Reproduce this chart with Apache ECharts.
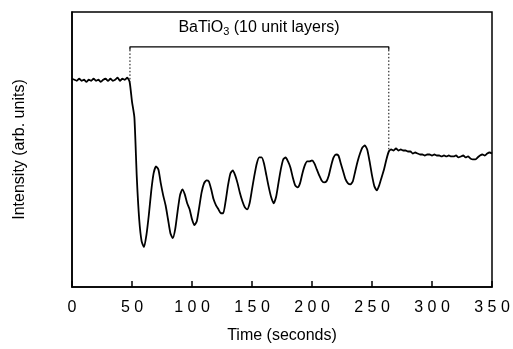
<!DOCTYPE html>
<html>
<head>
<meta charset="utf-8">
<script src="https://cdn.jsdelivr.net/npm/echarts@6/dist/echarts.min.js"></script>
<style>
  html, body { margin: 0; padding: 0; background: #fff; }
  #chart { width: 513px; height: 349px; }
</style>
</head>
<body>
<div id="chart"></div>
<script>
// RHEED intensity during growth of BaTiO3
const timeSec = [
  0, 2, 4, 6, 8, 10, 12, 14, 16, 18, 20, 22, 24, 26, 28, 30, 32, 34, 36, 38, 40, 42, 44, 46, 48,
  50, 52, 54, 56, 58, 60, 62, 64, 66, 68, 70, 72, 74, 76, 78, 80, 82, 84, 86, 88, 90, 92, 94, 96, 98,
  100, 102, 104, 106, 108, 110, 112, 114, 116, 118, 120, 122, 124, 126, 128, 130, 132, 134, 136, 138,
  140, 142, 144, 146, 148, 150, 152, 154, 156, 158, 160, 162, 164, 166, 168, 170, 172, 174, 176, 178,
  180, 182, 184, 186, 188, 190, 192, 194, 196, 198, 200, 202, 204, 206, 208, 210, 212, 214, 216, 218,
  220, 222, 224, 226, 228, 230, 232, 234, 236, 238, 240, 242, 244, 246, 248, 250, 252, 254, 256, 258,
  260, 262, 264, 266, 268, 270, 272, 274, 276, 278, 280, 282, 284, 286, 288, 290, 292, 294, 296, 298,
  300, 302, 304, 306, 308, 310, 312, 314, 316, 318, 320, 322, 324, 326, 328, 330, 332, 334, 336, 338,
  340, 342, 344, 346, 348, 350
]
const intensity = [
  209, 208, 207, 209, 207, 208, 206, 208, 207, 209, 207, 208, 206, 208, 209, 207, 209, 207, 208, 210, 207, 209, 208, 210, 206,
  186, 170, 110, 68, 46, 40, 52, 72, 96, 114, 121, 118, 104, 92, 82, 68, 54, 49, 58, 76, 92, 98, 93, 84, 78,
  68, 62, 66, 80, 95, 104, 107, 106, 98, 88, 82, 78, 74, 74, 86, 102, 114, 117, 112, 104,
  94, 86, 80, 78, 84, 98, 112, 124, 130, 130, 124, 112, 100, 90, 84, 90, 104, 118, 128, 130,
  126, 120, 110, 102, 100, 104, 114, 122, 126, 126, 127, 124, 118, 112, 107, 105, 106, 112, 122, 130,
  133, 132, 124, 116, 108, 104, 103, 106, 116, 126, 134, 140, 142, 138, 126, 112, 101, 97, 102, 110,
  118, 128, 136, 138, 137, 139, 137, 138, 137, 137, 136, 136, 134, 135, 134, 133, 133, 132, 133, 133,
  132, 133, 132, 132, 131, 132, 131, 132, 131, 131, 132, 130, 131, 132, 130, 131, 129, 128, 128, 130,
  132, 133, 132, 134, 135, 134
]
// deposition interval marked by the bracket
const bracketTimes = [48.3, 264]
const bracketLevel = 241
const bracketEnds = [206, 138]
const xTicks = [0, 50, 100, 150, 200, 250, 300, 350]

const chartDom = document.getElementById('chart')
const myChart = echarts.init(chartDom, null, { renderer: 'canvas' })

const curve = timeSec.map((t, i) => [t, intensity[i]])
const font = 'Liberation Sans, Arial, Helvetica, sans-serif'

const option = {
  animation: false,
  backgroundColor: '#fff',
  grid: {
    left: 72, right: 21, top: 12, bottom: 61,
    show: true, borderColor: '#000', borderWidth: 1.5
  },
  graphic: [
    {
      type: 'text',
      x: 259, y: 28,
      style: {
        text: '{a|BaTiO}{s|3}{a| (10 unit layers)}',
        align: 'center',
        verticalAlign: 'middle',
        rich: {
          a: { fontSize: 16, fontFamily: font, fill: '#000' },
          s: { fontSize: 11, fontFamily: font, fill: '#000', padding: [8, 0, 0, 0] }
        }
      }
    }
  ],
  xAxis: {
    type: 'value',
    min: xTicks[0],
    max: xTicks[xTicks.length - 1],
    interval: 50,
    name: 'Time (seconds)',
    nameLocation: 'middle',
    nameGap: 41,
    nameTextStyle: { fontSize: 16, fontFamily: font, color: '#000' },
    axisLine: { show: true, onZero: false, lineStyle: { color: '#000', width: 1.5 } },
    axisTick: { show: false },
    axisLabel: {
      fontSize: 16, fontFamily: font, color: '#000', margin: 13,
      formatter: (v) => String(v).split('').join(' ')
    },
    splitLine: { show: false }
  },
  yAxis: {
    type: 'value',
    min: 0,
    max: 276,
    name: 'Intensity (arb. units)',
    nameLocation: 'middle',
    nameGap: 44,
    nameTextStyle: { fontSize: 16, fontFamily: font, color: '#000' },
    axisLine: { show: true, lineStyle: { color: '#000', width: 1.5 } },
    axisTick: { show: false },
    axisLabel: { show: false },
    splitLine: { show: false }
  },
  series: [
    {
      name: 'intensity',
      type: 'line',
      data: curve,
      symbol: 'none',
      smooth: 0.2,
      lineStyle: { color: '#000', width: 1.8 },
      // inward tick marks on the time axis
      markLine: {
        silent: true,
        symbol: 'none',
        label: { show: false },
        lineStyle: { color: '#000', width: 1.5, type: 'solid' },
        data: xTicks.map((t) => [{ coord: [t, 0] }, { coord: [t, 6] }])
      }
    },
    {
      name: 'bracket',
      type: 'line',
      data: [
        [bracketTimes[0], bracketLevel - 3],
        [bracketTimes[0], bracketLevel],
        [bracketTimes[1], bracketLevel],
        [bracketTimes[1], bracketLevel - 3]
      ],
      symbol: 'none',
      lineStyle: { color: '#000', width: 1.3 }
    },
    {
      name: 'left mark',
      type: 'line',
      data: [[bracketTimes[0], bracketLevel - 3], [bracketTimes[0], bracketEnds[0]]],
      symbol: 'none',
      lineStyle: { color: '#000', width: 1, type: [1.5, 2] }
    },
    {
      name: 'right mark',
      type: 'line',
      data: [[bracketTimes[1], bracketLevel - 3], [bracketTimes[1], bracketEnds[1]]],
      symbol: 'none',
      lineStyle: { color: '#000', width: 1, type: [1.5, 2] }
    }
  ]
}

myChart.setOption(option)

window.addEventListener('resize', () => {
  myChart.resize()
})
</script>
</body>
</html>
